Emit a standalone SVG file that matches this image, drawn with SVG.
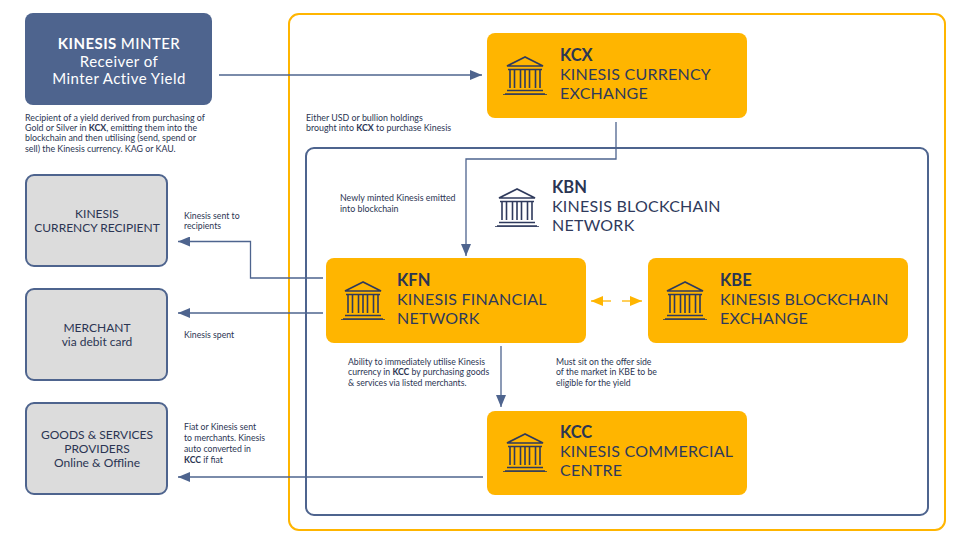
<svg xmlns="http://www.w3.org/2000/svg" xmlns:xlink="http://www.w3.org/1999/xlink" width="970" height="544" viewBox="0 0 970 544">
<style>
text{font-family:Lato,"Open Sans","Liberation Sans",sans-serif}
.y{fill:#ffb500}
.g{fill:#dcdcdc;stroke:#4e648e;stroke-width:2}
.t{fill:#2f3a5c;font-size:16px;letter-spacing:.25px}
.h{fill:#2b3553;font-size:16.500px;font-weight:700}
.s{fill:#2b3553;font-size:8.850px}
.n{fill:#2b3553;font-size:8.700px}
.c{fill:#2b3553;font-size:12px;text-anchor:middle}
.w{fill:#fff;font-size:15px;text-anchor:middle;letter-spacing:.45px}
.l{fill:none;stroke:#4e648e;stroke-width:1.3}
.i{fill:none;stroke:#2f3a5c;stroke-width:1.6}
.b{font-weight:700}
</style>
<defs>
<marker id="a" markerUnits="userSpaceOnUse" markerWidth="13" markerHeight="10" refX="12" refY="5" orient="auto"><path d="M0 0L12 5L0 10Z" fill="#4e648e"/></marker>
<marker id="o" markerUnits="userSpaceOnUse" markerWidth="13" markerHeight="10" refX="12" refY="5" orient="auto-start-reverse"><path d="M0 0L12 5L0 10Z" fill="#ffb500"/></marker>
<g id="ic" class="i">
<path d="M0 0L-18 9H18Z"/><path d="M-17 12.500H17"/>
<path d="M-15 13V31M-10.500 13V31M-4.500 13V31M0 13V31M4.500 13V31M10.500 13V31M15 13V31"/>
<path d="M-18 33.500H18M-20 37H20"/><path d="M-22 37.500H22" stroke-width=".8"/>
</g>
</defs>
<rect x="289" y="14" width="656" height="516" rx="10" fill="none" stroke="#ffb500" stroke-width="2"/>
<rect x="306" y="148" width="622" height="367" rx="8" fill="none" stroke="#4e648e" stroke-width="2"/>
<g id="connectors">
<path class="l" d="M219 75H482" marker-end="url(#a)"/>
<path class="l" d="M616 122V159H466V256" marker-end="url(#a)"/>
<path class="l" d="M323 278H250.500V241.500H178" marker-end="url(#a)"/>
<path class="l" d="M323 313H178" marker-end="url(#a)"/>
<path class="l" d="M501 346V407" marker-end="url(#a)"/>
<path class="l" d="M483 477H178" marker-end="url(#a)"/>
<path d="M611 301H591" stroke="#ffb500" stroke-width="1.300" fill="none" marker-end="url(#o)"/>
<path d="M622 301H642" stroke="#ffb500" stroke-width="1.300" fill="none" marker-end="url(#o)"/>
</g>
<g id="minter">
<rect x="25" y="13" width="187" height="92" rx="8" fill="#4e648e"/>
<text class="w" x="119" y="49" style="font-weight:700">KINESIS <tspan style="font-weight:500">MINTER</tspan></text>
<text class="w" x="119" y="67">Receiver of</text>
<text class="w" x="119" y="84">Minter Active Yield</text>
</g>
<g id="minter-note">
<text class="s" x="25" y="121">Recipient of a yield derived from purchasing of</text>
<text class="s" x="25" y="131">Gold or Silver in <tspan class="b">KCX</tspan>, emitting them into the</text>
<text class="s" x="25" y="141">blockchain and then utilising (send, spend or</text>
<text class="s" x="25" y="152">sell) the Kinesis currency. KAG or KAU.</text>
</g>
<g id="recipient"><rect class="g" x="26" y="175" width="141" height="91" rx="8"/>
<text class="c" x="97" y="217.500">KINESIS</text><text class="c" x="97" y="231.500">CURRENCY RECIPIENT</text></g>
<g id="merchant"><rect class="g" x="26" y="289" width="141" height="91" rx="8"/>
<text class="c" x="97" y="331.500">MERCHANT</text><text class="c" x="97" y="345.500">via debit card</text></g>
<g id="providers"><rect class="g" x="26" y="403" width="141" height="91" rx="8"/>
<text class="c" x="97" y="439">GOODS &amp; SERVICES</text><text class="c" x="97" y="453">PROVIDERS</text><text class="c" x="97" y="467">Online &amp; Offline</text></g>
<g id="kcx"><rect class="y" x="487" y="33" width="260" height="85" rx="8"/><use href="#ic" x="525" y="57"/>
<text class="h" x="560" y="61">KCX</text><text class="t" x="560" y="80">KINESIS CURRENCY</text><text class="t" x="560" y="99">EXCHANGE</text></g>
<g id="kbn"><use href="#ic" x="517" y="189"/>
<text class="h" x="552" y="193">KBN</text><text class="t" x="552" y="212">KINESIS BLOCKCHAIN</text><text class="t" x="552" y="231">NETWORK</text></g>
<g id="kfn"><rect class="y" x="326" y="258" width="260" height="85" rx="8"/><use href="#ic" x="363" y="282"/>
<text class="h" x="397" y="286">KFN</text><text class="t" x="397" y="305">KINESIS FINANCIAL</text><text class="t" x="397" y="324">NETWORK</text></g>
<g id="kbe"><rect class="y" x="648" y="258" width="260" height="85" rx="8"/><use href="#ic" x="685" y="282"/>
<text class="h" x="720" y="286">KBE</text><text class="t" x="720" y="305">KINESIS BLOCKCHAIN</text><text class="t" x="720" y="324">EXCHANGE</text></g>
<g id="kcc"><rect class="y" x="487" y="411" width="260" height="84" rx="8"/><use href="#ic" x="525" y="434"/>
<text class="h" x="560" y="438">KCC</text><text class="t" x="560" y="457">KINESIS COMMERCIAL</text><text class="t" x="560" y="476">CENTRE</text></g>
<g id="labels">
<text class="s" x="306" y="121">Either USD or bullion holdings</text>
<text class="s" x="306" y="131">brought into <tspan class="b">KCX</tspan> to purchase Kinesis</text>
<text class="s" x="340" y="201">Newly minted Kinesis emitted</text>
<text class="s" x="340" y="212">into blockchain</text>
<text class="n" x="184" y="219">Kinesis sent to</text>
<text class="n" x="184" y="229">recipients</text>
<text class="n" x="184" y="338">Kinesis spent</text>
<text class="n" x="348" y="365">Ability to immediately utilise Kinesis</text>
<text class="n" x="348" y="375">currency in <tspan class="b">KCC</tspan> by purchasing goods</text>
<text class="n" x="348" y="386">&amp; services via listed merchants.</text>
<text class="n" x="556" y="365">Must sit on the offer side</text>
<text class="n" x="556" y="375">of the market in KBE to be</text>
<text class="n" x="556" y="386">eligible for the yield</text>
<text class="n" x="184" y="430">Fiat or Kinesis sent</text>
<text class="n" x="184" y="441">to merchants. Kinesis</text>
<text class="n" x="184" y="452">auto converted in</text>
<text class="n" x="184" y="463"><tspan class="b">KCC</tspan> if fiat</text>
</g>
</svg>
